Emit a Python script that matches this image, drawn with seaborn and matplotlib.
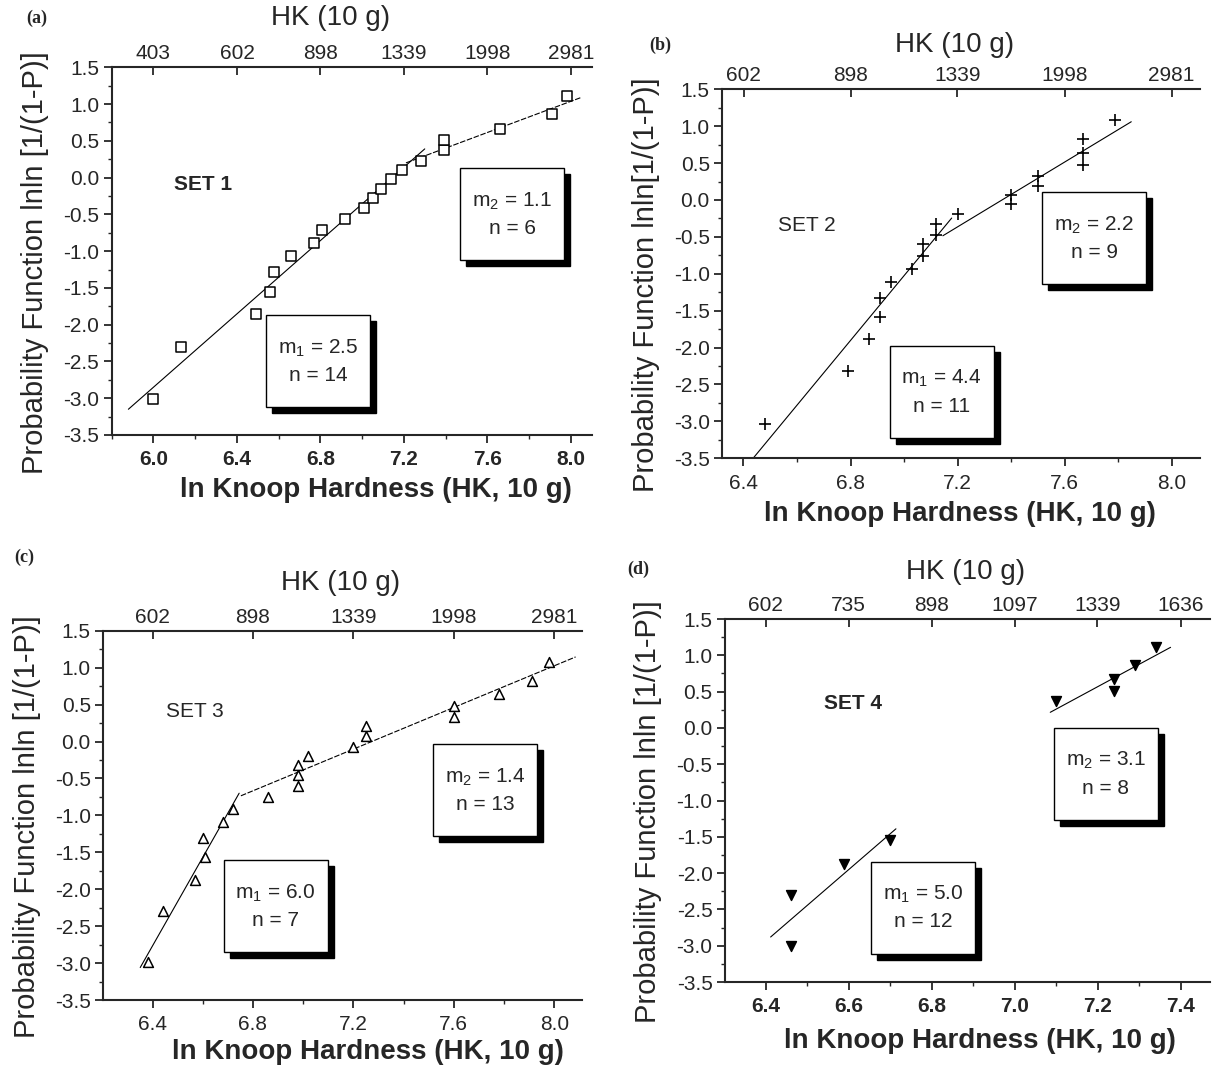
import matplotlib

matplotlib.use("Agg")
import matplotlib.pyplot as plt
import numpy as np
import pandas as pd
import seaborn as sns
from matplotlib.patches import Rectangle
from matplotlib.ticker import MultipleLocator, NullLocator, FormatStrFormatter

# ---------------------------------------------------------------------------
# Data (ln HK vs lnln[1/(1-P)])
# ---------------------------------------------------------------------------

set1_x = [6.00, 6.13, 6.49, 6.56, 6.58, 6.66, 6.77, 6.81, 6.92, 7.01,
          7.05, 7.09, 7.14, 7.19, 7.28, 7.39, 7.39, 7.66, 7.91, 7.98]
set1_y = [-3.01, -2.30, -1.86, -1.55, -1.28, -1.07, -0.89, -0.71, -0.56, -0.41,
          -0.28, -0.15, -0.02, 0.11, 0.23, 0.37, 0.51, 0.66, 0.86, 1.11]
set1_fit1_x, set1_fit1_y = [5.88, 7.30], [-3.15, 0.39]
set1_fit2_x, set1_fit2_y = [7.21, 8.05], [0.20, 1.09]

set2_x = [6.48, 6.79, 6.87, 6.91, 6.91, 6.95, 7.03, 7.07, 7.07, 7.12,
          7.12, 7.20, 7.40, 7.40, 7.50, 7.50, 7.67, 7.67, 7.67, 7.79]
set2_y = [-3.03, -2.32, -1.89, -1.58, -1.33, -1.11, -0.94, -0.76, -0.60, -0.47,
          -0.33, -0.19, -0.05, 0.07, 0.19, 0.33, 0.47, 0.63, 0.83, 1.08]
set2_fit1_x, set2_fit1_y = [6.436, 7.178], [-3.50, -0.245]
set2_fit2_x, set2_fit2_y = [7.145, 7.849], [-0.485, 1.06]

set3_x = [6.38, 6.44, 6.57, 6.61, 6.60, 6.68, 6.72, 6.86, 6.98, 6.98,
          6.98, 7.02, 7.20, 7.25, 7.25, 7.60, 7.60, 7.78, 7.91, 7.98]
set3_y = [-2.99, -2.30, -1.87, -1.56, -1.30, -1.09, -0.91, -0.75, -0.60, -0.46,
          -0.32, -0.19, -0.07, 0.07, 0.21, 0.33, 0.48, 0.64, 0.82, 1.08]
set3_fit1_x, set3_fit1_y = [6.351, 6.745], [-3.06, -0.70]
set3_fit2_x, set3_fit2_y = [6.752, 8.085], [-0.735, 1.145]

set4_x = [6.46, 6.46, 6.59, 6.70, 7.10, 7.24, 7.24, 7.29, 7.34]
set4_y = [-3.01, -2.30, -1.87, -1.54, 0.37, 0.51, 0.68, 0.87, 1.11]
set4_fit1_x, set4_fit1_y = [6.412, 6.714], [-2.88, -1.39]
set4_fit2_x, set4_fit2_y = [7.086, 7.376], [0.215, 1.11]

hk_ticks_wide = [403, 602, 898, 1339, 1998, 2981]
hk_ticks_b = [602, 898, 1339, 1998, 2981]
hk_ticks_d = [602, 735, 898, 1097, 1339, 1636]

m1_labels = ["m$_1$ = 2.5\nn = 14", "m$_1$ = 4.4\nn = 11", "m$_1$ = 6.0\nn = 7", "m$_1$ = 5.0\nn = 12"]
m2_labels = ["m$_2$ = 1.1\nn = 6", "m$_2$ = 2.2\nn = 9", "m$_2$ = 1.4\nn = 13", "m$_2$ = 3.1\nn = 8"]
set_names = ["SET 1", "SET 2", "SET 3", "SET 4"]
panel_tags = ["(a)", "(b)", "(c)", "(d)"]

# ---------------------------------------------------------------------------
# Style
# ---------------------------------------------------------------------------

sns.set_style("ticks")
plt.rcParams["font.family"] = ["Liberation Sans", "DejaVu Sans"]
plt.rcParams["mathtext.default"] = "regular"
plt.rcParams["axes.unicode_minus"] = False

fig = plt.figure(figsize=(12.14, 10.73), dpi=100)

panels = [
    dict(rect=[0.092, 0.5946, 0.3954, 0.3427], xlim=(5.80, 8.10), major=0.4,
         x=set1_x, y=set1_y, marker="s", face="white", s=50,
         fits=[(set1_fit1_x, set1_fit1_y, "-"), (set1_fit2_x, set1_fit2_y, (0, (5, 1.5)))],
         hk=hk_ticks_wide, m1=(6.79, -2.50), m2=(7.72, -0.50), setpos=(6.24, -0.10),
         setbold=True, ylab="Probability Function lnln [1/(1-P)]",
         xlab=(0.55, -0.115), title=(0.455, 1.133), tag=(0.022, 0.983)),
    dict(rect=[0.595, 0.5729, 0.3935, 0.3439], xlim=(6.321, 8.106), major=0.4,
         x=set2_x, y=set2_y, marker="+", face="black", s=65,
         fits=[(set2_fit1_x, set2_fit1_y, "-"), (set2_fit2_x, set2_fit2_y, "-")],
         hk=hk_ticks_b, m1=(7.14, -2.60), m2=(7.71, -0.52), setpos=(6.635, -0.35),
         setbold=False, ylab="Probability Function lnln[1/(1-P)]",
         xlab=(0.498, -0.115), title=(0.487, 1.119), tag=(0.535, 0.958)),
    dict(rect=[0.0851, 0.068, 0.394, 0.3442], xlim=(6.204, 8.109), major=0.4,
         x=set3_x, y=set3_y, marker="^", face="white", s=50,
         fits=[(set3_fit1_x, set3_fit1_y, "-"), (set3_fit2_x, set3_fit2_y, (0, (5, 1.5)))],
         hk=hk_ticks_b, m1=(6.89, -2.23), m2=(7.725, -0.66), setpos=(6.57, 0.41),
         setbold=False, ylab="Probability Function lnln [1/(1-P)]",
         xlab=(0.553, -0.105), title=(0.495, 1.13), tag=(0.012, 0.481)),
    dict(rect=[0.5972, 0.0848, 0.3995, 0.3383], xlim=(6.302, 7.471), major=0.2,
         x=set4_x, y=set4_y, marker="v", face="black", s=50,
         fits=[(set4_fit1_x, set4_fit1_y, "-"), (set4_fit2_x, set4_fit2_y, "-")],
         hk=hk_ticks_d, m1=(6.78, -2.475), m2=(7.22, -0.635), setpos=(6.61, 0.33),
         setbold=True, ylab="Probability Function lnln [1/(1-P)]",
         xlab=(0.526, -0.128), title=(0.495, 1.129), tag=(0.517, 0.469)),
]

box_w, box_h = 104, 92  # pixels
shadow = 6

for i, p in enumerate(panels):
    ax = fig.add_axes(p["rect"])
    df = pd.DataFrame({"x": p["x"], "y": p["y"]})
    if p["marker"] == "+":
        sns.scatterplot(data=df, x="x", y="y", marker="+", s=p["s"], color="black",
                        linewidth=1.2, ax=ax, zorder=3)
    else:
        sns.scatterplot(data=df, x="x", y="y", marker=p["marker"], s=p["s"],
                        facecolor=p["face"], edgecolor="black", linewidth=1.1,
                        ax=ax, zorder=3)
    for fx, fy, ls in p["fits"]:
        sns.lineplot(x=fx, y=fy, color="black", linewidth=0.8, linestyle=ls, ax=ax)

    ax.set_xlim(*p["xlim"])
    ax.set_ylim(-3.5, 1.5)
    ax.xaxis.set_major_locator(MultipleLocator(p["major"]))
    ax.xaxis.set_minor_locator(MultipleLocator(p["major"] / 2))
    ax.yaxis.set_major_locator(MultipleLocator(0.5))
    ax.yaxis.set_minor_locator(MultipleLocator(0.25))
    ax.xaxis.set_major_formatter(FormatStrFormatter("%.1f"))
    ax.yaxis.set_major_formatter(FormatStrFormatter("%.1f"))
    ax.tick_params(axis="both", which="major", direction="out", length=6, width=1.3,
                   labelsize=15, pad=3)
    ax.tick_params(axis="both", which="minor", direction="out", length=3, width=1.0)
    ax.tick_params(axis="x", which="major", pad=5)
    for lbl in ax.get_xticklabels():
        lbl.set_fontweight("bold" if p["setbold"] else "normal")
    ax.spines["right"].set_visible(False)
    ax.spines["top"].set_visible(False)
    for side in ("left", "bottom"):
        ax.spines[side].set_linewidth(1.5)

    sec = ax.secondary_xaxis("top", functions=(np.exp, np.log))
    sec.set_xticks(p["hk"])
    sec.set_xticklabels([str(v) for v in p["hk"]])
    sec.xaxis.set_minor_locator(NullLocator())
    sec.tick_params(direction="in", length=6, width=1.3, labelsize=15, pad=3)
    sec.spines["top"].set_linewidth(1.5)

    ax.set_xlabel("ln Knoop Hardness (HK, 10 g)", fontsize=20, fontweight="bold")
    ax.xaxis.set_label_coords(*p["xlab"])
    ax.xaxis.label.set_va("top")
    ax.set_ylabel(p["ylab"], fontsize=21)
    ax.yaxis.set_label_coords(-0.13, 0.47)
    ax.text(p["title"][0], p["title"][1], "HK (10 g)", transform=ax.transAxes,
            ha="center", va="center", fontsize=20)

    ax.text(p["setpos"][0], p["setpos"][1], set_names[i], ha="center", va="center",
            fontsize=15, fontweight="bold" if p["setbold"] else "normal")

    # white boxes with a drop shadow holding the Weibull moduli
    for (cx, cy), label in zip([p["m1"], p["m2"]], [m1_labels[i], m2_labels[i]]):
        px, py = ax.transData.transform((cx, cy))
        ax.add_patch(Rectangle((px - box_w / 2 + shadow, py - box_h / 2 - shadow),
                               box_w, box_h, transform=None, facecolor="black",
                               edgecolor="black", zorder=4, clip_on=False))
        ax.add_patch(Rectangle((px - box_w / 2, py - box_h / 2), box_w, box_h,
                               transform=None, facecolor="white", edgecolor="black",
                               linewidth=1.0, zorder=5, clip_on=False))
        ax.text(cx, cy, label, ha="center", va="center", multialignment="center",
                fontsize=15, linespacing=1.5, zorder=6)

    fig.text(p["tag"][0], p["tag"][1], panel_tags[i], fontsize=13, fontweight="bold",
             family=["Liberation Serif", "DejaVu Serif"], ha="left", va="center")

fig.savefig("out.png", dpi=100)
